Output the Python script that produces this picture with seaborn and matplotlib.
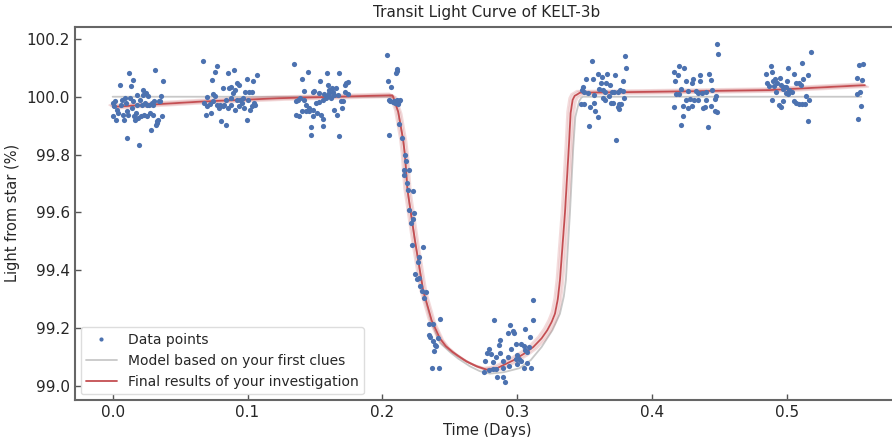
import numpy as np
import pandas as pd
import matplotlib
matplotlib.use('Agg')
import matplotlib.pyplot as plt
import seaborn as sns
from matplotlib.lines import Line2D

# Datos: tiempo (dias) y luz de la estrella (%), por bloques de observacion
t_bloque1 = [0.0005, 0.001, 0.0017, 0.0, 0.0025, 0.0035, 0.0042, 0.0054, 0.0059, 0.0067,
             0.0074, 0.0084, 0.0091, 0.0099, 0.0104, 0.0109, 0.0116, 0.0123, 0.0128, 0.0133,
             0.0141, 0.0148, 0.0153, 0.0158, 0.0165, 0.0173, 0.0178, 0.0183, 0.0190, 0.0198,
             0.0202, 0.0207, 0.0215, 0.0222, 0.0227, 0.0232, 0.0240, 0.0247, 0.0252, 0.0257,
             0.0264, 0.0272, 0.0277, 0.0281, 0.0289, 0.0296, 0.0301, 0.0306, 0.0314, 0.0321,
             0.0326, 0.0331, 0.0338, 0.0346, 0.0351, 0.0358, 0.0365, 0.0375]
f_bloque1 = [99.978, 99.967, 99.984, 99.932, 99.921, 99.955, 99.944, 100.041, 99.972, 99.990,
             99.938, 99.921, 99.995, 99.978, 99.949, 99.857, 99.938, 100.082, 99.995, 100.036,
             99.961, 100.059, 99.984, 99.932, 99.921, 99.944, 100.007, 99.972, 99.926, 99.834,
             99.990, 99.932, 99.972, 100.007, 100.024, 99.938, 99.978, 100.013, 99.972, 99.932,
             100.001, 99.972, 99.944, 99.886, 99.978, 99.938, 99.972, 99.984, 100.093, 99.903,
             99.909, 99.915, 99.921, 99.984, 99.984, 100.001, 99.932, 100.053]

t_bloque2 = [0.0667, 0.0758, 0.0770, 0.0733, 0.0852, 0.0901, 0.0998, 0.1042, 0.1067, 0.0820,
             0.0862, 0.0881, 0.0906, 0.0919, 0.0938, 0.0980, 0.1012, 0.1030, 0.0701, 0.0746,
             0.0758, 0.0795, 0.0815, 0.0840, 0.0874, 0.0894, 0.0923, 0.0943, 0.0963, 0.1005,
             0.1047, 0.0677, 0.0696, 0.0721, 0.0770, 0.0790, 0.0825, 0.0857, 0.0881, 0.0906,
             0.0938, 0.0973, 0.1017, 0.1054, 0.0691, 0.0726, 0.0800, 0.0844, 0.0993, 0.1030,
             0.0956, 0.0746]
f_bloque2 = [100.124, 100.087, 100.105, 100.059, 100.082, 100.093, 100.062, 100.053, 100.074, 100.030,
             100.030, 100.032, 100.024, 100.047, 100.041, 100.018, 100.018, 100.018, 99.998, 100.009,
             100.001, 99.972, 99.967, 99.990, 99.995, 100.013, 99.990, 99.990, 99.995, 99.990,
             99.978, 99.978, 99.967, 99.975, 99.972, 99.961, 99.972, 99.961, 99.972, 99.955,
             99.967, 99.961, 99.955, 99.972, 99.938, 99.944, 99.917, 99.903, 99.921, 99.967,
             99.978, 99.984]

t_bloque3 = [0.1348, 0.1447, 0.1588, 0.1681, 0.1405, 0.1538, 0.1595, 0.1627, 0.1607, 0.1657,
             0.1719, 0.1731, 0.1743, 0.1415, 0.1484, 0.1496, 0.1533, 0.1570, 0.1607, 0.1632,
             0.1644, 0.1726, 0.1743, 0.1373, 0.1390, 0.1360, 0.1422, 0.1509, 0.1528, 0.1558,
             0.1583, 0.1694, 0.1711, 0.1430, 0.1454, 0.1459, 0.1484, 0.1435, 0.1514, 0.1546,
             0.1644, 0.1662, 0.1701, 0.1360, 0.1380, 0.1405, 0.1484, 0.1558, 0.1472, 0.1558,
             0.1467, 0.1677, 0.1607, 0.1595, 0.1620, 0.1669]
f_bloque3 = [100.114, 100.087, 100.082, 100.082, 100.061, 100.056, 100.041, 100.030, 100.024, 100.030,
             100.041, 100.047, 100.051, 100.021, 100.018, 100.021, 100.013, 100.009, 100.013, 100.018,
             100.007, 100.018, 100.009, 99.990, 99.995, 99.986, 99.990, 99.978, 99.982, 99.990,
             99.995, 99.986, 99.986, 99.972, 99.961, 99.949, 99.955, 99.949, 99.944, 99.938,
             99.955, 99.938, 99.961, 99.936, 99.932, 99.949, 99.932, 99.924, 99.894, 99.900,
             99.867, 99.863, 100.001, 100.001, 99.995, 100.007]

# Bloque del transito: antes de la caida, caida y fondo
t_transito = [0.2035, 0.2042, 0.2064, 0.2101, 0.2106, 0.2109, 0.2047, 0.2059, 0.2077, 0.2089,
              0.2096, 0.2106, 0.2116, 0.2126, 0.2133, 0.2052, 0.2126, 0.2146,
              0.2170, 0.2175, 0.2163, 0.2195, 0.2158, 0.2180, 0.2188, 0.2225, 0.2200, 0.2237,
              0.2230, 0.2212, 0.2220, 0.2299, 0.2269, 0.2262, 0.2244, 0.2254, 0.2274, 0.2279,
              0.2294, 0.2323, 0.2311, 0.2343, 0.2373, 0.2427, 0.2348, 0.2356, 0.2410, 0.2373,
              0.2393, 0.2398, 0.2380, 0.2365, 0.2417,
              0.2830, 0.2946, 0.3119, 0.3114, 0.2965, 0.2928, 0.2978, 0.3059, 0.2872, 0.3091,
              0.2862, 0.2990, 0.3027, 0.3052, 0.3089, 0.2953, 0.2793, 0.2773, 0.2805, 0.2874,
              0.2928, 0.3000, 0.3059, 0.3069, 0.3010, 0.2842, 0.2763, 0.2817, 0.2891, 0.2936,
              0.3000, 0.3052, 0.3069, 0.3101, 0.2817, 0.2842, 0.2788, 0.2756, 0.2891, 0.2852,
              0.2896, 0.2911, 0.2990, 0.3027]
f_transito = [100.145, 100.055, 100.032, 100.082, 100.090, 100.097, 99.990, 99.984, 99.982, 99.986,
              99.978, 99.990, 99.975, 99.986, 99.990, 99.869, 99.907, 99.857,
              99.800, 99.777, 99.746, 99.748, 99.728, 99.702, 99.677, 99.674, 99.608, 99.599,
              99.576, 99.564, 99.486, 99.482, 99.447, 99.429, 99.386, 99.369, 99.375, 99.346,
              99.329, 99.326, 99.306, 99.215, 99.216, 99.231, 99.176, 99.168, 99.167, 99.156,
              99.142, 99.137, 99.122, 99.064, 99.061,
              99.228, 99.212, 99.297, 99.228, 99.189, 99.182, 99.182, 99.199, 99.159, 99.170,
              99.141, 99.145, 99.147, 99.139, 99.134, 99.128, 99.128, 99.116, 99.110, 99.114,
              99.099, 99.107, 99.125, 99.117, 99.093, 99.102, 99.087, 99.082, 99.087, 99.070,
              99.076, 99.064, 99.079, 99.064, 99.059, 99.059, 99.056, 99.049, 99.064, 99.030,
              99.030, 99.015, 99.093, 99.087]

t_bloque5 = [0.3551, 0.3800, 0.3805, 0.3509, 0.3563, 0.3600, 0.3627, 0.3662, 0.3726, 0.3785,
             0.3620, 0.3654, 0.3689, 0.3484, 0.3479, 0.3496, 0.3521, 0.3570, 0.3607, 0.3632,
             0.3652, 0.3701, 0.3719, 0.3743, 0.3760, 0.3780, 0.3677, 0.3632, 0.3652, 0.3694,
             0.3711, 0.3756, 0.3793, 0.3472, 0.3496, 0.3538, 0.3570, 0.3578, 0.3595, 0.3756,
             0.3748, 0.3768, 0.3528, 0.3731]
f_bloque5 = [100.122, 100.141, 100.101, 100.062, 100.061, 100.079, 100.067, 100.078, 100.074, 100.055,
             100.047, 100.049, 100.041, 100.033, 100.024, 100.015, 100.013, 100.007, 100.026, 100.022,
             100.018, 100.015, 100.018, 100.018, 100.022, 100.021, 100.001, 99.995, 99.987, 99.980,
             99.980, 99.976, 99.995, 99.976, 99.976, 99.964, 99.980, 99.949, 99.930, 99.957,
             99.964, 99.976, 99.898, 99.852]

t_bloque6 = [0.4484, 0.4491, 0.4200, 0.4237, 0.4163, 0.4188, 0.4353, 0.4422, 0.4168, 0.4249,
             0.4299, 0.4358, 0.4437, 0.4294, 0.4212, 0.4269, 0.4323, 0.4343, 0.4368, 0.4402,
             0.4447, 0.4180, 0.4195, 0.4254, 0.4279, 0.4311, 0.4336, 0.4398, 0.4472, 0.4467,
             0.4225, 0.4262, 0.4294, 0.4373, 0.4393, 0.4437, 0.4158, 0.4462, 0.4481, 0.4232,
             0.4212, 0.4410]
f_bloque6 = [100.183, 100.147, 100.105, 100.099, 100.087, 100.076, 100.076, 100.078, 100.056, 100.056,
             100.061, 100.053, 100.059, 100.047, 100.026, 100.021, 100.021, 100.013, 100.013, 100.015,
             100.024, 100.009, 100.010, 99.990, 99.992, 99.987, 99.990, 99.987, 100.003, 99.992,
             99.969, 99.961, 99.967, 99.961, 99.964, 99.969, 99.964, 99.949, 99.946, 99.932,
             99.901, 99.894]

t_bloque7 = [0.5175, 0.5114, 0.4879, 0.5010, 0.4847, 0.4886, 0.5052, 0.5158, 0.4911, 0.4946,
             0.4998, 0.5119, 0.4854, 0.4896, 0.4928, 0.4953, 0.5064, 0.5089, 0.5101, 0.4867,
             0.4904, 0.4978, 0.4995, 0.4970, 0.5015, 0.5040, 0.4916, 0.4990, 0.5010, 0.5141,
             0.5163, 0.4886, 0.4970, 0.5052, 0.5069, 0.5089, 0.5114, 0.5133, 0.4941, 0.4953,
             0.5158,
             0.5533, 0.5563, 0.5521, 0.5558, 0.5516, 0.5541, 0.5548, 0.5528]
f_bloque7 = [100.154, 100.116, 100.107, 100.101, 100.078, 100.087, 100.078, 100.074, 100.061, 100.064,
             100.056, 100.061, 100.049, 100.053, 100.047, 100.041, 100.047, 100.049, 100.041, 100.036,
             100.038, 100.033, 100.033, 100.026, 100.024, 100.018, 100.018, 100.013, 100.010, 100.001,
             99.987, 99.990, 99.984, 99.984, 99.978, 99.976, 99.976, 99.976, 99.972, 99.963,
             99.915,
             100.110, 100.113, 100.064, 100.059, 100.010, 100.015, 99.967, 99.923]

# Modelo inicial (gris)
t_modelo = [0.0, 0.2080, 0.2117, 0.2154, 0.2167, 0.2186, 0.2241, 0.2302, 0.2365, 0.2426,
            0.2500, 0.2562, 0.2650, 0.2720, 0.2797, 0.2900, 0.3017, 0.3100, 0.3180, 0.3260,
            0.3316, 0.3345, 0.3360, 0.3390, 0.3415, 0.3430, 0.3459, 0.3475, 0.3489, 0.555]
f_modelo = [100.0, 100.0, 99.945, 99.848, 99.796, 99.675, 99.500, 99.326, 99.220, 99.150,
            99.118, 99.095, 99.068, 99.052, 99.043, 99.048, 99.062, 99.090, 99.135, 99.193,
            99.250, 99.310, 99.366, 99.597, 99.827, 99.930, 99.985, 99.997, 100.0, 100.0]

# Resultado final (rojo)
t_final = [0.0, 0.065, 0.124, 0.2075, 0.2117, 0.2154, 0.2167, 0.2186, 0.2241, 0.2302,
           0.2365, 0.2426, 0.2470, 0.2520, 0.2562, 0.2624, 0.2700, 0.2772, 0.2850, 0.2970, 0.3050,
           0.3118, 0.3180, 0.3222, 0.3255, 0.3279, 0.3300, 0.3316, 0.3353, 0.3382, 0.3395,
           0.3410, 0.3425, 0.3444, 0.3464, 0.40, 0.4873, 0.5577]
f_final = [99.965, 99.983, 99.995, 100.005, 99.948, 99.850, 99.798, 99.677, 99.504, 99.331,
           99.227, 99.165, 99.138, 99.118, 99.104, 99.085, 99.068, 99.057, 99.062, 99.089, 99.112,
           99.135, 99.165, 99.193, 99.222, 99.250, 99.300, 99.366, 99.597, 99.827, 99.943,
           99.989, 100.003, 100.008, 100.014, 100.017, 100.023, 100.040]

# Dispersion de las muestras rojas alrededor del resultado final (dias, %)
banda_dt = [-0.0024, -0.0012, 0.0012, 0.0024]
banda_df = [0.006, 0.003, -0.003, -0.006]

df = pd.DataFrame({
    'tiempo': t_bloque1 + t_bloque2 + t_bloque3 + t_transito + t_bloque5 + t_bloque6 + t_bloque7,
    'luz': f_bloque1 + f_bloque2 + f_bloque3 + f_transito + f_bloque5 + f_bloque6 + f_bloque7,
})

azul = '#4c72b0'
rojo = '#c44e52'
gris = '#c8c8c8'

sns.set_style('white')
plt.rcParams['font.family'] = ['DejaVu Sans']
plt.rcParams['text.color'] = '#262626'
plt.rcParams['axes.labelcolor'] = '#262626'

fig = plt.figure(figsize=(8.92, 4.37), dpi=100)
ax = fig.add_axes([0.0841, 0.0847, 0.9238, 0.8542])

sns.scatterplot(data=df, x='tiempo', y='luz', color=azul, s=14, linewidth=0, zorder=3, ax=ax, legend=False)
sns.lineplot(x=t_modelo, y=f_modelo, color=gris, lw=1.3, estimator=None, sort=False, ax=ax, zorder=1)
for dt, dfl in zip(banda_dt, banda_df):
    sns.lineplot(x=np.array(t_final) + dt, y=np.array(f_final) + dfl, color=rojo, lw=1.5, alpha=0.2,
                 estimator=None, sort=False, ax=ax, zorder=2)
sns.lineplot(x=t_final, y=f_final, color=rojo, lw=1.3, estimator=None, sort=False, ax=ax, zorder=2)

ax.set_xlim(-0.0279, 0.583)
ax.set_ylim(98.952, 100.242)
ax.set_xticks([0.0, 0.1, 0.2, 0.3, 0.4, 0.5])
ax.set_yticks([99.0, 99.2, 99.4, 99.6, 99.8, 100.0, 100.2])
ax.tick_params(direction='in', length=4, width=1, colors='#555555', labelcolor='#262626',
               labelsize=11, bottom=True, left=True)
for s in ax.spines.values():
    s.set_color('#666666')
    s.set_linewidth(1.5)

ax.set_title('Transit Light Curve of KELT-3b', fontsize=11, pad=7)
ax.set_xlabel('Time (Days)', fontsize=10.5, labelpad=2)
ax.set_ylabel('Light from star (%)', fontsize=10.5, labelpad=5)

manejadores = [
    Line2D([], [], ls='none', marker='o', ms=3, color=azul, markeredgewidth=0),
    Line2D([], [], color=gris, lw=1.3),
    Line2D([], [], color=rojo, lw=1.3),
]
ax.legend(manejadores, ['Data points', 'Model based on your first clues', 'Final results of your investigation'],
          loc='lower left', fontsize=10, frameon=True, framealpha=1, edgecolor='#dddddd',
          borderaxespad=0.4, handlelength=2.2)

fig.savefig('out.png', dpi=100)
